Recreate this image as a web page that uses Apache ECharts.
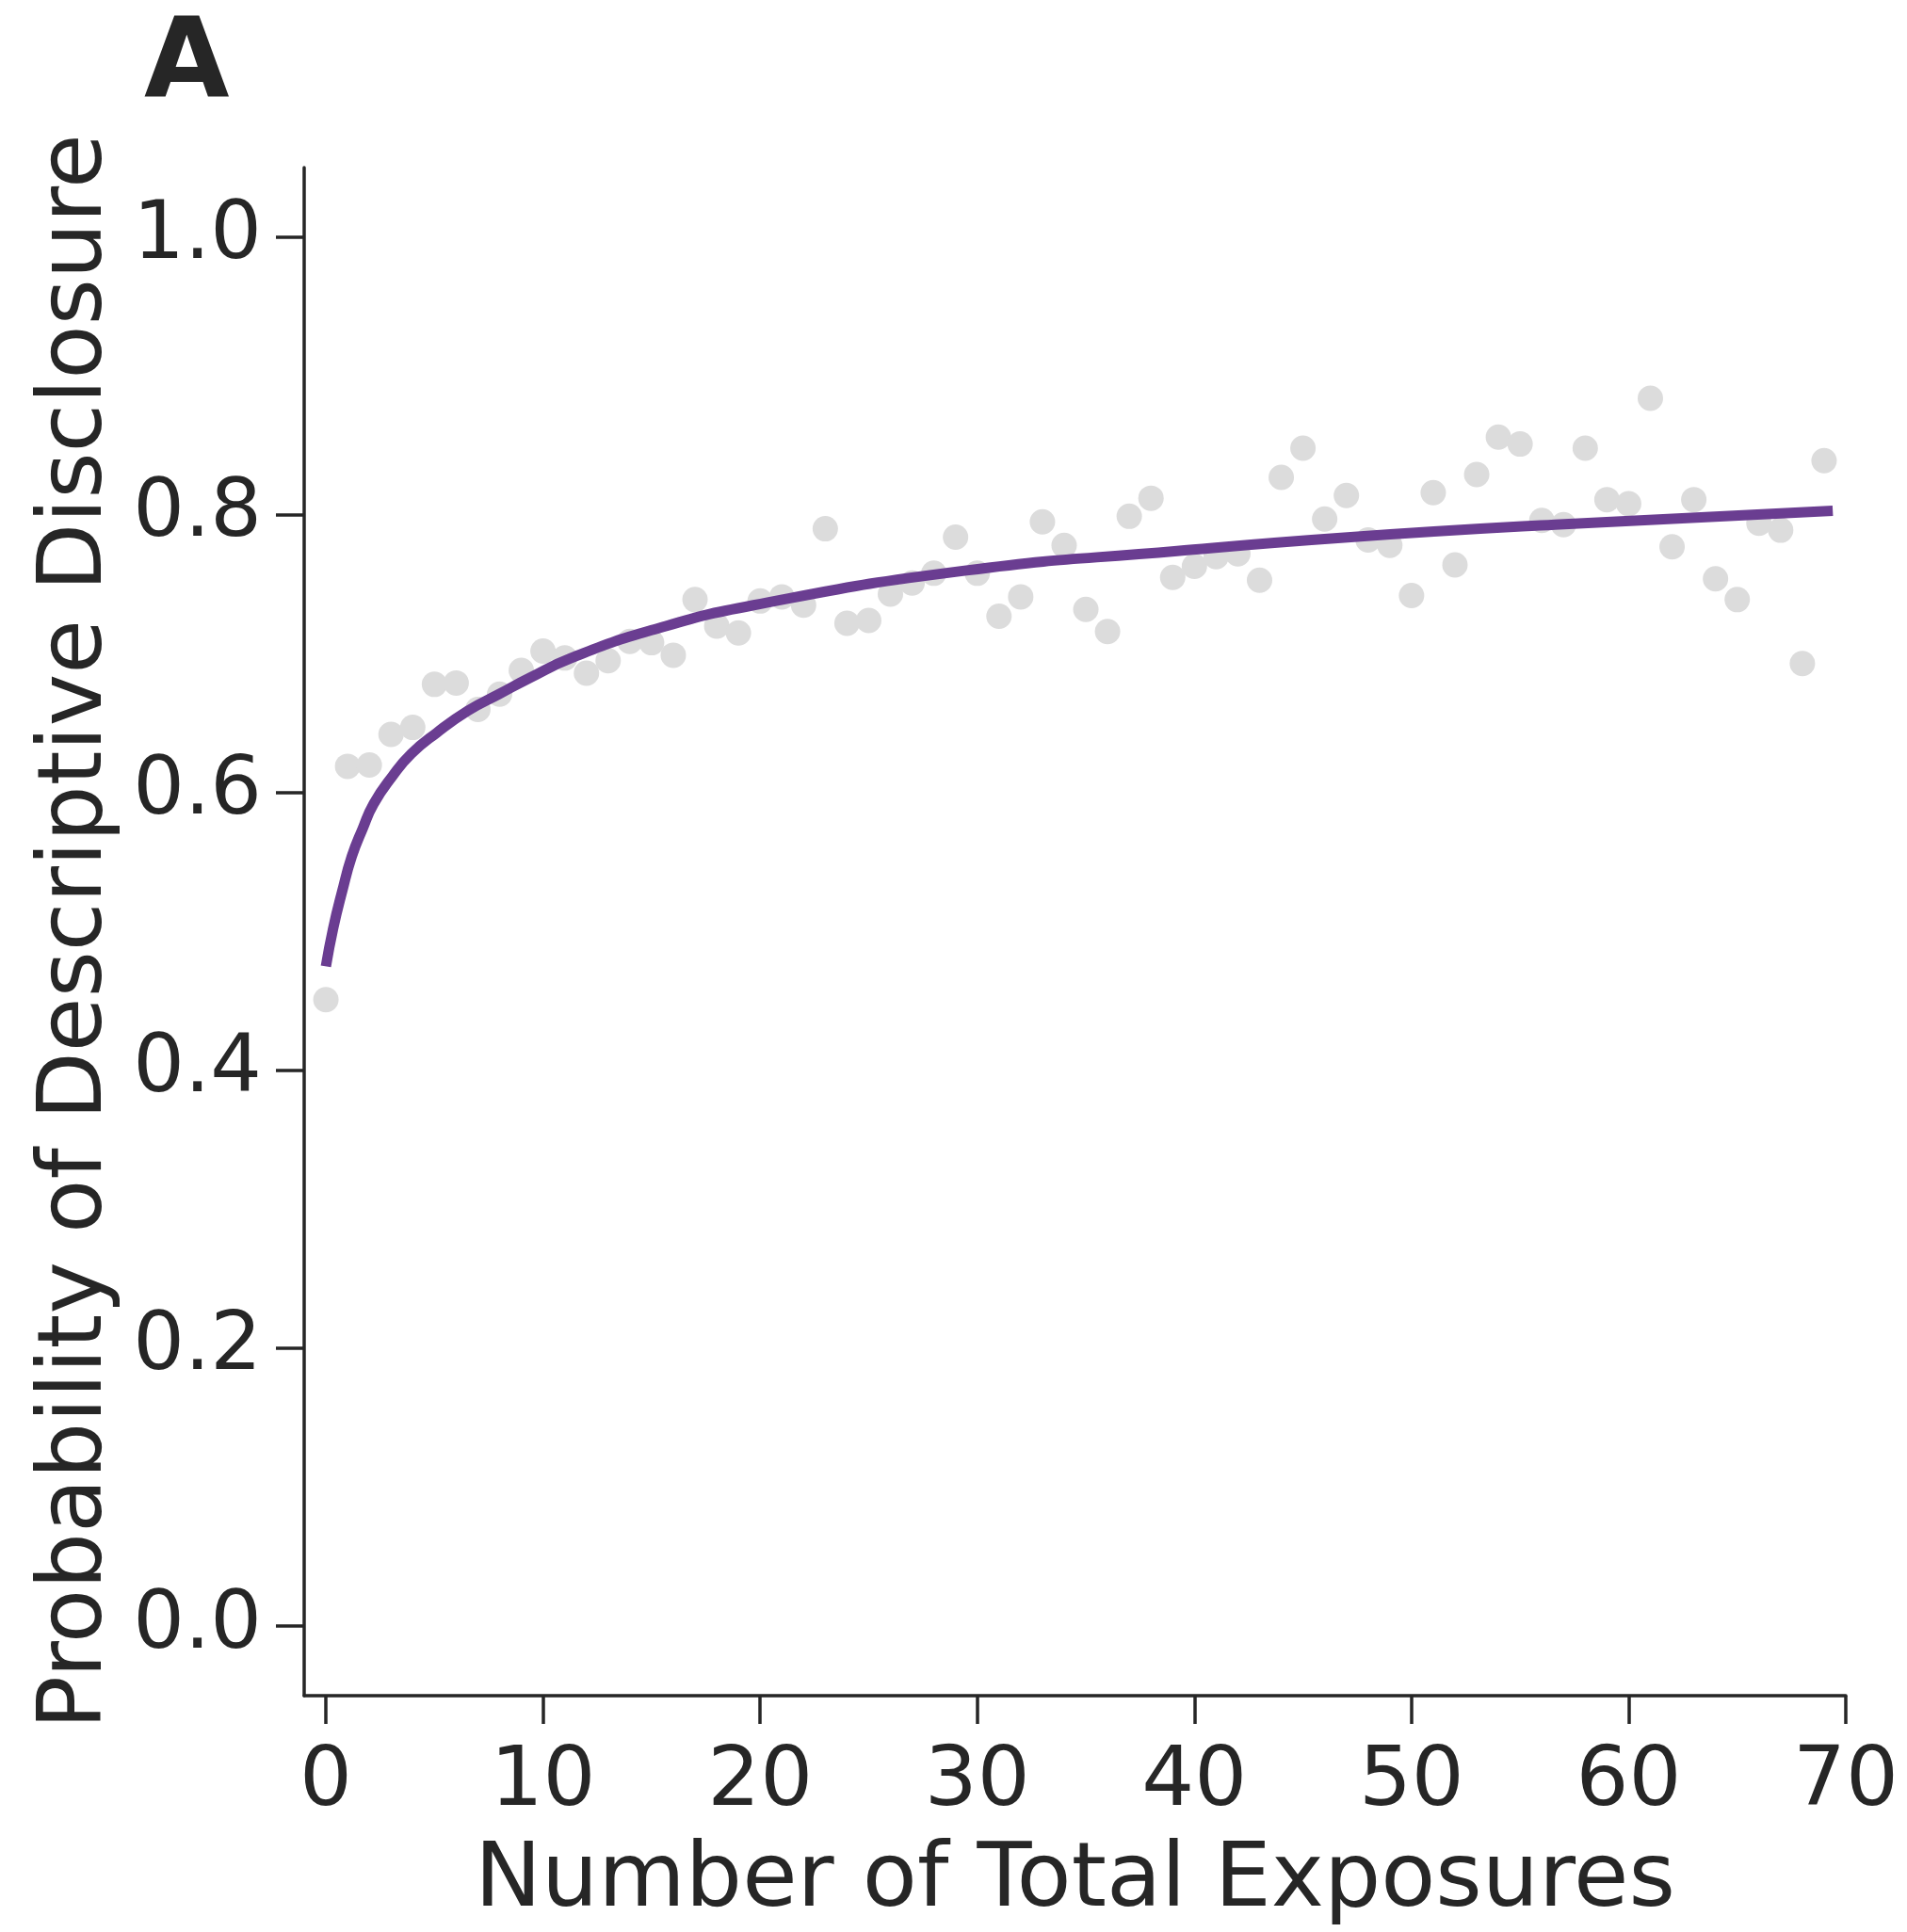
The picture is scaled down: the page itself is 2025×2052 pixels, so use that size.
<!DOCTYPE html>
<html>
<head>
<meta charset="utf-8">
<script src="https://cdn.jsdelivr.net/npm/echarts@6/dist/echarts.min.js"></script>
<style>
html,body{margin:0;padding:0;background:#fff;}
#chart{width:2025px;height:2052px;}
</style>
</head>
<body>
<div id="chart"></div>
<script>
// Observed proportions per exposure count (grey dots)
const exposures = [0,1,2,3,4,5,6,7,8,9,10,11,12,13,14,15,16,17,18,19,20,21,22,23,24,25,26,27,28,29,30,31,32,33,34,35,36,37,38,39,40,41,42,43,44,45,46,47,48,49,50,51,52,53,54,55,56,57,58,59,60,61,62,63,64,65,66,67,68,69];
const observed = [0.451,0.619,0.620,0.642,0.647,0.678,0.679,0.660,0.671,0.688,0.702,0.697,0.686,0.695,0.709,0.708,0.699,0.739,0.720,0.715,0.738,0.741,0.735,0.790,0.722,0.724,0.743,0.751,0.758,0.784,0.758,0.727,0.741,0.795,0.778,0.732,0.716,0.799,0.812,0.755,0.763,0.770,0.772,0.753,0.827,0.848,0.797,0.814,0.782,0.778,0.742,0.816,0.764,0.829,0.856,0.851,0.796,0.793,0.848,0.811,0.808,0.884,0.777,0.811,0.754,0.739,0.794,0.789,0.693,0.839];

// Fitted curve at sample positions
const fitX = [0,0.33,0.75,1.19,1.69,2.2,3.07,3.93,5.09,6.54,7.98,9.43,11.3,15,19.7,29.5,39.2,47.2,56.6,69.4];
const fitY = [0.475,0.502,0.529,0.554,0.574,0.592,0.612,0.628,0.643,0.659,0.671,0.683,0.697,0.717,0.735,0.760,0.774,0.784,0.793,0.803];

// Tick labels
const xTicks = [0,10,20,30,40,50,60,70];
const yTicks = [0,0.2,0.4,0.6,0.8,1.0];

const ink = '#262626';
const font = 'DejaVu Sans';

const chart = echarts.init(document.getElementById('chart'), null, {renderer:'canvas'});
chart.setOption({
  animation: false,
  backgroundColor: '#ffffff',
  grid: {left: 323, right: 65, top: 178, bottom: 238, containLabel: false},
  graphic: [{
    type: 'text', left: 153, top: 14,
    style: {text: 'A', font: 'bold 117px "DejaVu Sans"', fill: ink}
  }],
  xAxis: {
    type: 'value', min: -1, max: 70,
    name: 'Number of Total Exposures', nameLocation: 'middle', nameGap: 151,
    nameTextStyle: {fontFamily: font, fontSize: 95, color: ink},
    axisLine: {show: true, onZero: false, lineStyle: {color: ink, width: 3.5}},
    axisTick: {show: true, length: 30, inside: false, customValues: xTicks, lineStyle: {color: ink, width: 3.5}},
    axisLabel: {customValues: xTicks, margin: 49, fontFamily: font, fontSize: 88, color: ink},
    splitLine: {show: false}
  },
  yAxis: {
    type: 'value', min: -0.05, max: 1.05,
    name: 'Probability of Descriptive Disclosure', nameLocation: 'middle', nameGap: 193, nameRotate: 90,
    nameTextStyle: {fontFamily: font, fontSize: 94, color: ink},
    axisLine: {show: true, onZero: false, lineStyle: {color: ink, width: 3.5}},
    axisTick: {show: true, length: 30, inside: false, customValues: yTicks, lineStyle: {color: ink, width: 3.5}},
    axisLabel: {customValues: yTicks, margin: 45, fontFamily: font, fontSize: 86, color: ink,
      padding: [14, 0, 0, 0], formatter: v => v.toFixed(1)},
    splitLine: {show: false}
  },
  series: [
    {
      type: 'scatter', z: 2,
      data: exposures.map((x, i) => [x, observed[i]]),
      symbol: 'circle', symbolSize: 27,
      itemStyle: {color: '#dcdcdc', opacity: 1}
    },
    {
      type: 'line', z: 3,
      data: fitX.map((x, i) => [x, fitY[i]]),
      showSymbol: false, symbol: 'none', smooth: 0.5,
      lineStyle: {color: '#6a3d91', width: 11, cap: 'butt'}
    }
  ]
});
</script>
</body>
</html>
